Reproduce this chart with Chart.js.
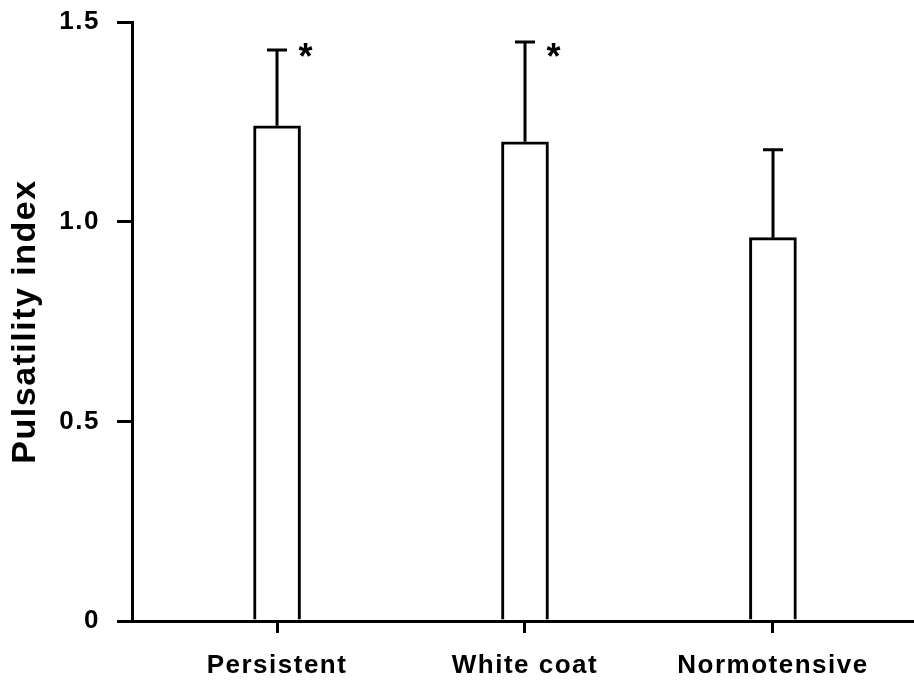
<!DOCTYPE html>
<html>
<head>
<meta charset="utf-8">
<title>Pulsatility index</title>
<script src="https://cdn.jsdelivr.net/npm/chart.js@4/dist/chart.umd.min.js"></script>
<style>
  html, body { margin: 0; padding: 0; background: #fff; }
  #wrap { width: 914px; height: 682px; }
</style>
</head>
<body>
<div id="wrap"><canvas id="chart" width="914" height="682"></canvas></div>
<script>
// Groups and their mean pulsatility index with upper SD
const categories = ['Persistent', 'White coat', 'Normotensive'];
const meanPI = [1.24, 1.20, 0.96];
const sdPI = [0.19, 0.25, 0.22];
const significant = [true, true, false];

// Y-axis ticks
const yTicks = [0, 0.5, 1.0, 1.5];
const yTickLabels = ['0', '0.5', '1.0', '1.5'];

const INK = '#000';
const FONT = '"Liberation Sans", Arial, Helvetica, sans-serif';
const SPACING = '1.5px';

// Keeps a bit of tracking on every canvas text, like the typeset figure
const tracking = {
  id: 'tracking',
  beforeUpdate(chart) { chart.ctx.letterSpacing = SPACING; },
  beforeLayout(chart) { chart.ctx.letterSpacing = SPACING; },
  beforeDraw(chart) { chart.ctx.letterSpacing = SPACING; }
};

// Upper SD whiskers and significance marks
const whiskers = {
  id: 'whiskers',
  afterDatasetsDraw(chart) {
    const ctx = chart.ctx;
    const y = chart.scales.y;
    const meta = chart.getDatasetMeta(0);
    ctx.save();
    ctx.strokeStyle = INK;
    ctx.lineWidth = 3;
    ctx.lineCap = 'butt';
    meta.data.forEach((bar, i) => {
      const top = y.getPixelForValue(meanPI[i] + sdPI[i]);
      const cx = Math.round(bar.x);
      ctx.beginPath();
      ctx.moveTo(cx, bar.y);
      ctx.lineTo(cx, top);
      ctx.moveTo(cx - 10, top);
      ctx.lineTo(cx + 10, top);
      ctx.stroke();
      if (significant[i]) {
        ctx.letterSpacing = '0px';
        ctx.fillStyle = INK;
        ctx.font = 'bold 36px ' + FONT;
        ctx.textAlign = 'center';
        ctx.textBaseline = 'alphabetic';
        const m = ctx.measureText('*');
        const centerY = y.getPixelForValue(1.43);
        const baseY = centerY + (m.actualBoundingBoxAscent - m.actualBoundingBoxDescent) / 2;
        ctx.fillText('*', bar.x + bar.width / 2 + 5, baseY);
      }
    });
    ctx.restore();
  }
};

new Chart(document.getElementById('chart'), {
  type: 'bar',
  data: {
    datasets: [{
      data: meanPI.map((v, i) => ({ x: i, y: v })),
      backgroundColor: '#fff',
      borderColor: INK,
      borderWidth: 3,
      borderSkipped: 'start',
      barThickness: 47
    }]
  },
  options: {
    responsive: false,
    animation: false,
    devicePixelRatio: 1,
    layout: { padding: { top: 22, left: 0, right: 0, bottom: 0 } },
    plugins: { legend: { display: false }, tooltip: { enabled: false } },
    scales: {
      x: {
        type: 'linear',
        min: -0.585,
        max: 2.569,
        offset: false,
        afterBuildTicks(scale) { scale.ticks = categories.map((c, i) => ({ value: i })); },
        afterFit(scale) {
          scale.height = 61;
          scale.paddingLeft = 0;
          scale.paddingRight = 0;
        },
        ticks: {
          autoSkip: false,
          maxRotation: 0,
          minRotation: 0,
          padding: 17,
          color: INK,
          font: { family: FONT, size: 26, weight: 'bold' },
          callback: (v) => categories[v]
        },
        grid: {
          offset: false,
          drawOnChartArea: false,
          drawTicks: true,
          tickLength: 12,
          lineWidth: 3,
          color: INK
        },
        border: { display: true, color: INK, width: 3 }
      },
      y: {
        type: 'linear',
        min: 0,
        max: 1.5,
        afterBuildTicks(scale) { scale.ticks = yTicks.map(v => ({ value: v })); },
        afterFit(scale) {
          scale.width = 132;
          scale.paddingTop = 0;
          scale.paddingBottom = 0;
        },
        ticks: {
          padding: 17,
          color: INK,
          font: { family: FONT, size: 26, weight: 'bold' },
          callback: (v) => yTickLabels[yTicks.indexOf(v)]
        },
        grid: {
          drawOnChartArea: false,
          drawTicks: true,
          tickLength: 15,
          lineWidth: 3,
          color: INK
        },
        border: { display: true, color: INK, width: 3 },
        title: {
          display: true,
          text: 'Pulsatility index',
          color: INK,
          font: { family: FONT, size: 34, weight: 'bold' },
          padding: { top: 5, bottom: 0 }
        }
      }
    }
  },
  plugins: [tracking, whiskers]
});
</script>
</body>
</html>
